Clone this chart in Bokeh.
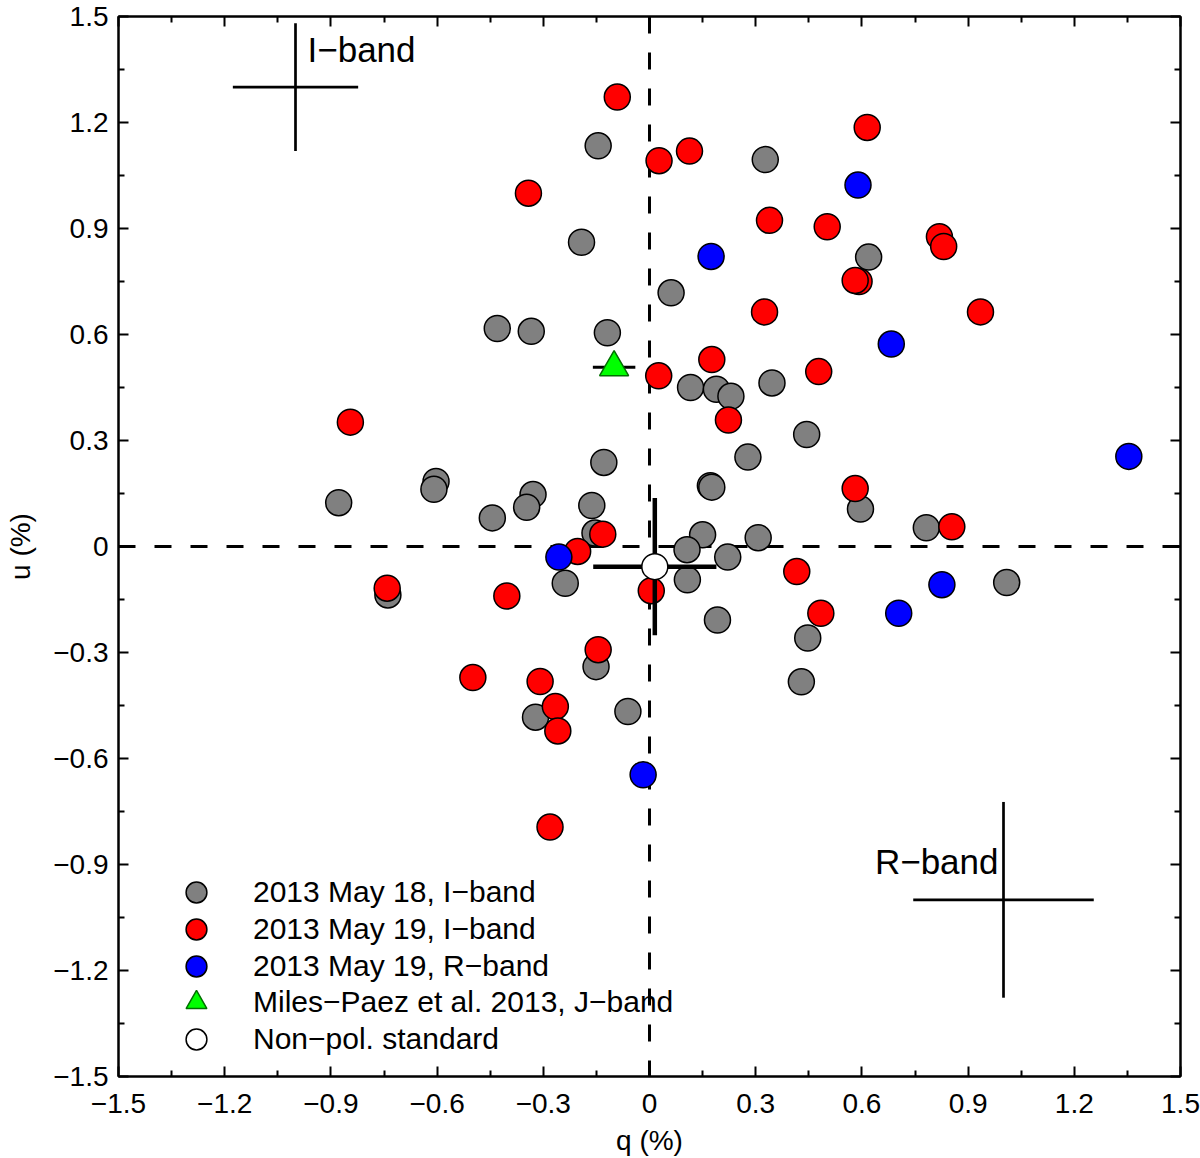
import numpy as np

from bokeh.plotting import figure
from bokeh.models import (Range1d, Span, Label, Legend, LegendItem,
                          LinearAxis, FixedTicker, ColumnDataSource)
from bokeh.embed import file_html
from bokeh.resources import INLINE

FONT = "Liberation Sans"

# 2013 May 18, I-band
may18_q = [-0.145, 0.327, -0.192, 0.619, 0.061, -0.430, -0.334, -0.119,
           0.116, 0.189, 0.230, 0.346, 0.444, 0.278, -0.129, 0.172, 0.176,
           -0.878, -0.603, -0.609, -0.329, -0.347, -0.444, -0.163, -0.154,
           0.596, 0.782, 0.150, 0.307, 0.106, 0.221, 0.107, -0.238, -0.739,
           1.009, 0.192, 0.447, 0.429, -0.151, -0.322, -0.061]
may18_u = [1.134, 1.095, 0.861, 0.819, 0.718, 0.617, 0.609, 0.605,
           0.450, 0.445, 0.425, 0.463, 0.317, 0.253, 0.238, 0.172, 0.168,
           0.124, 0.184, 0.162, 0.147, 0.111, 0.081, 0.116, 0.038,
           0.106, 0.053, 0.033, 0.025, -0.009, -0.030, -0.094, -0.104, -0.137,
           -0.102, -0.208, -0.259, -0.383, -0.340, -0.483, -0.467]

# 2013 May 19, I-band
may19i_q = [-0.091, 0.615, 0.027, 0.113, -0.342, 0.339, 0.502, 0.819,
            0.831, 0.592, 0.581, 0.325, 0.935, 0.176, 0.478, 0.026, 0.223,
            -0.845, 0.581, 0.854, -0.132, -0.203, 0.416, -0.741, -0.403,
            0.005, 0.484, -0.145, -0.499, -0.309, -0.266, -0.259, -0.281]
may19i_u = [1.272, 1.186, 1.092, 1.119, 1.000, 0.923, 0.905, 0.877,
            0.849, 0.750, 0.753, 0.664, 0.664, 0.529, 0.495, 0.483, 0.358,
            0.352, 0.164, 0.056, 0.035, -0.014, -0.071, -0.118, -0.140,
            -0.125, -0.189, -0.292, -0.371, -0.382, -0.453, -0.522, -0.794]

# 2013 May 19, R-band
may19r_q = [0.589, 0.174, 0.683, 1.354, -0.256, 0.826, 0.704, -0.018]
may19r_u = [1.023, 0.821, 0.573, 0.255, -0.030, -0.108, -0.189, -0.646]

# Miles-Paez et al. 2013, J-band (value and q error)
mp_q = [-0.100]
mp_u = [0.507]
mp_dq = [0.060]

# non-polarized standard (value and errors)
std_q = [0.015]
std_u = [-0.057]
std_dq = [0.174]
std_du = [0.194]

# typical error crosses: centre q, u and half sizes
iband_q, iband_u, iband_dq, iband_du = -1.0, 1.30, 0.177, 0.181
rband_q, rband_u, rband_dq, rband_du = 1.0, -1.0, 0.255, 0.277

tick_values = [-1.5, -1.2, -0.9, -0.6, -0.3, 0, 0.3, 0.6, 0.9, 1.2, 1.5]
tick_labels = ["\u22121.5", "\u22121.2", "\u22120.9", "\u22120.6", "\u22120.3",
               "0", "0.3", "0.6", "0.9", "1.2", "1.5"]
minor_values = [(a + b) / 2 for a, b in zip(tick_values[:-1], tick_values[1:])]

legend_labels = ["2013 May 18, I\u2212band", "2013 May 19, I\u2212band",
                 "2013 May 19, R\u2212band",
                 "Miles\u2212Paez et al. 2013, J\u2212band",
                 "Non\u2212pol. standard"]


def cross(q, u, dq, du):
    q, u, dq, du = map(np.asarray, (q, u, dq, du))
    return dict(x0=np.r_[q - dq, q], y0=np.r_[u, u - du],
                x1=np.r_[q + dq, q], y1=np.r_[u, u + du])


p = figure(width=1200, height=1158,
           x_range=Range1d(-1.5, 1.5), y_range=Range1d(-1.5, 1.5),
           x_axis_label="q (%)", y_axis_label="u (%)",
           min_border_left=118, min_border_right=20,
           min_border_top=16, min_border_bottom=81,
           output_backend="svg", toolbar_location=None)
p.grid.visible = False
p.outline_line_color = "black"
p.outline_line_width = 2

top_axis = LinearAxis()
right_axis = LinearAxis()
p.add_layout(top_axis, "above")
p.add_layout(right_axis, "right")
xax = p.below[0]
yax = p.left[0]

for ax in (xax, yax, top_axis, right_axis):
    ax.ticker = FixedTicker(ticks=tick_values, minor_ticks=minor_values)
    ax.axis_line_width = 2
    ax.major_tick_in = 10
    ax.major_tick_out = 0
    ax.minor_tick_in = 6
    ax.minor_tick_out = 0
    ax.major_tick_line_width = 2
    ax.minor_tick_line_width = 2
    ax.major_label_text_font = FONT
    ax.major_label_overrides = dict(zip(tick_values, tick_labels))

# mirror axes: ticks only
for ax in (top_axis, right_axis):
    ax.major_label_text_font_size = "1px"
    ax.major_label_text_color = None
    ax.major_label_standoff = 0

for ax in (xax, yax):
    ax.major_label_text_font_size = "28px"
    ax.major_label_text_color = "black"
    ax.axis_label_text_font = FONT
    ax.axis_label_text_font_size = "28px"
    ax.axis_label_text_font_style = "normal"
    ax.axis_label_text_color = "black"
xax.major_label_standoff = 17
xax.axis_label_standoff = 9
yax.major_label_standoff = 10
yax.axis_label_standoff = 14

for dim in ("height", "width"):
    p.add_layout(Span(location=0, dimension=dim, line_color="black",
                      line_width=3, line_dash="17 19", level="underlay"))

r18 = p.scatter(may18_q, may18_u, marker="circle", size=26,
                fill_color="#808080", line_color="black", line_width=1.5)
r19 = p.scatter(may19i_q, may19i_u, marker="circle", size=26,
                fill_color="#ff0000", line_color="black", line_width=1.5)
rR = p.scatter(may19r_q, may19r_u, marker="circle", size=26,
               fill_color="#0000ff", line_color="black", line_width=1.5)

p.segment("x0", "y0", "x1", "y1", line_color="black", line_width=3,
          source=ColumnDataSource(cross(mp_q, mp_u, mp_dq, [0.0])))
rmp = p.scatter(mp_q, mp_u, marker="triangle", size=29,
                fill_color="#00ff00", line_color="#007000", line_width=1.5)

p.segment("x0", "y0", "x1", "y1", line_color="black", line_width=2.7,
          source=ColumnDataSource(cross([iband_q], [iband_u],
                                        [iband_dq], [iband_du])))
p.segment("x0", "y0", "x1", "y1", line_color="black", line_width=2.7,
          source=ColumnDataSource(cross([rband_q], [rband_u],
                                        [rband_dq], [rband_du])))

p.segment("x0", "y0", "x1", "y1", line_color="black", line_width=4.5,
          source=ColumnDataSource(cross(std_q, std_u, std_dq, std_du)))
rstd = p.scatter(std_q, std_u, marker="circle", size=26,
                 fill_color="white", line_color="black", line_width=1.5)

p.add_layout(Label(x=iband_q, y=iband_u, x_offset=12, y_offset=38,
                   text="I\u2212band", text_font=FONT, text_font_size="35px",
                   text_baseline="alphabetic", text_color="black"))
p.add_layout(Label(x=rband_q, y=rband_u, x_offset=-5, y_offset=38,
                   text="R\u2212band", text_font=FONT, text_font_size="35px",
                   text_align="right", text_baseline="alphabetic",
                   text_color="black"))

# one single-row legend per entry, so rows can sit closer than the glyph box
renderers = [r18, r19, rR, rmp, rstd]
row_bottoms = [158, 121, 84, 48, 11]
for lab, r, yb in zip(legend_labels, renderers, row_bottoms):
    p.add_layout(Legend(items=[LegendItem(label=lab, renderers=[r])],
                        location=(52, yb), glyph_width=52, glyph_height=52,
                        label_standoff=31, padding=0, margin=0,
                        border_line_alpha=0, background_fill_alpha=0,
                        label_text_font=FONT, label_text_font_size="30px",
                        label_text_color="black"))

open("out.html", "w").write(file_html(p, INLINE))
